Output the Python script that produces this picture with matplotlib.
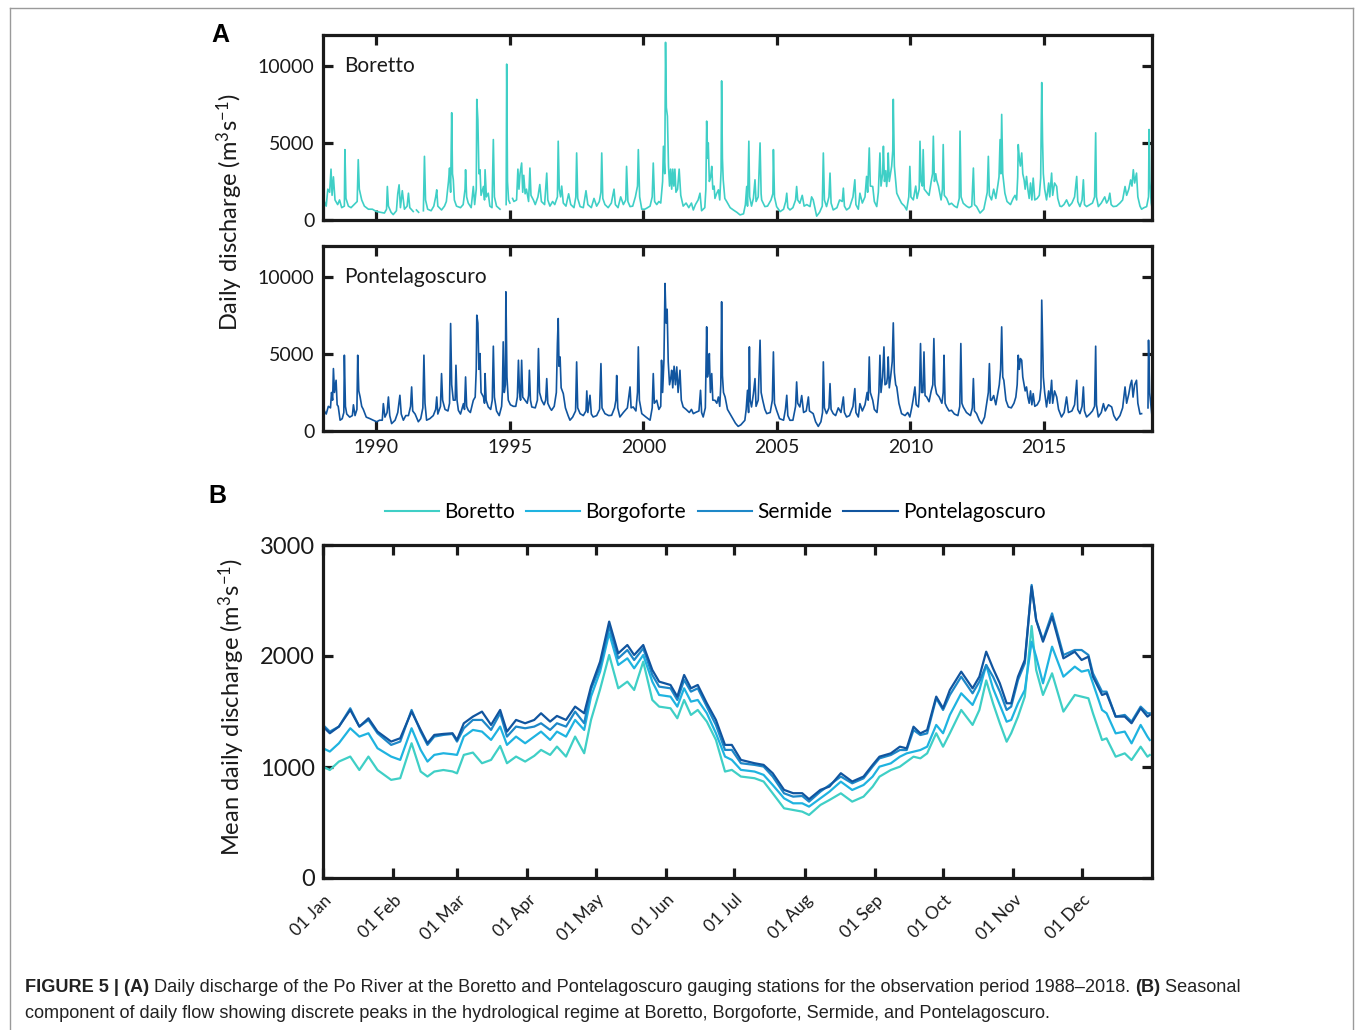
import numpy as np
import matplotlib
matplotlib.use("Agg")
import matplotlib.pyplot as plt
from matplotlib.lines import Line2D

plt.rcParams["font.family"] = ["Lato", "DejaVu Sans"]
plt.rcParams["mathtext.fontset"] = "custom"
plt.rcParams["mathtext.rm"] = "Lato"
plt.rcParams["mathtext.it"] = "Lato:italic"

# ── Colours ──────────────────────────────────────────────────────────────────
C_BORETTO = "#3FCFC6"
C_BORGOFORTE = "#1FB3E0"
C_SERMIDE = "#1E88C8"
C_PONTE = "#11559F"

NA = np.nan  # gaps in the record

# ── Panel A: daily discharge (decimal year, m3/s) ────────────────────────────
boretto_year = [
    1988.00, 1988.01, 1988.05, 1988.12, 1988.18, 1988.25, 1988.30, 1988.34, 1988.39, 1988.45,
    1988.55, 1988.62, 1988.70, 1988.80, 1988.82, 1988.86, 1988.95, 1989.05, 1989.28, 1989.32,
    1989.36, 1989.45, 1989.55, 1989.70, 1989.85, 1990.00, 1990.15, 1990.30, 1990.38, 1990.41,
    1990.45, 1990.55, 1990.63, 1990.75, 1990.80, 1990.85, 1990.90, 1990.97, 1991.05, 1991.15,
    1991.20, 1991.25, 1991.38, 1991.44, 1991.50, 1991.58, 1991.66, 1991.76, 1991.80, 1991.84,
    1991.92, 1992.05, 1992.15, 1992.22, 1992.26, 1992.30, 1992.44, 1992.55, 1992.62, 1992.70,
    1992.74, 1992.78, 1992.82, 1992.85, 1992.88, 1992.92, 1993.00, 1993.15, 1993.25, 1993.32,
    1993.34, 1993.38, 1993.44, 1993.55, 1993.63, 1993.68, 1993.74, 1993.76, 1993.80, 1993.84,
    1993.88, 1993.92, 1994.01, 1994.05, 1994.07, 1994.12, 1994.19, 1994.25, 1994.33, 1994.38,
    1994.42, 1994.50, 1994.63, 1994.68, 1994.86, 1994.88, 1994.91, 1994.95, 1995.00, 1995.04,
    1995.10, 1995.15, 1995.25, 1995.30, 1995.34, 1995.38, 1995.44, 1995.48, 1995.52, 1995.57,
    1995.62, 1995.70, 1995.75, 1995.79, 1995.88, 1995.95, 1996.05, 1996.12, 1996.18, 1996.30,
    1996.38, 1996.42, 1996.50, 1996.60, 1996.68, 1996.78, 1996.81, 1996.85, 1996.90, 1996.94,
    1997.00, 1997.10, 1997.20, 1997.28, 1997.40, 1997.47, 1997.50, 1997.54, 1997.63, 1997.75,
    1997.85, 1997.92, 1998.05, 1998.15, 1998.25, 1998.35, 1998.41, 1998.44, 1998.48, 1998.56,
    1998.68, 1998.80, 1998.90, 1998.95, 1999.05, 1999.15, 1999.25, 1999.34, 1999.37, 1999.42,
    1999.50, 1999.60, 1999.70, 1999.78, 1999.81, 1999.86, 1999.94, 2000.05, 2000.12, 2000.25,
    2000.33, 2000.37, 2000.42, 2000.50, 2000.58, 2000.65, 2000.72, 2000.75, 2000.80, 2000.83,
    2000.86, 2000.90, 2000.94, 2000.98, 2001.02, 2001.06, 2001.10, 2001.14, 2001.18, 2001.22,
    2001.28, 2001.34, 2001.40, 2001.49, 2001.60, 2001.70, 2001.80, 2001.87, 2001.95, 2002.05,
    2002.12, 2002.18, 2002.30, 2002.34, 2002.37, 2002.41, 2002.43, 2002.47, 2002.52, 2002.56,
    2002.60, 2002.65, 2002.68, 2002.74, 2002.81, 2002.86, 2002.91, 2002.93, 2002.96, 2002.99,
    2003.05, 2003.12, 2003.25, 2003.37, 2003.50, 2003.62, 2003.75, 2003.82, 2003.87, 2003.90,
    2003.95, 2003.98, 2004.05, 2004.12, 2004.18, 2004.22, 2004.30, 2004.37, 2004.41, 2004.43,
    2004.55, 2004.65, 2004.78, 2004.85, 2004.87, 2004.91, 2004.99, 2005.12, 2005.25, 2005.33,
    2005.37, 2005.41, 2005.49, 2005.60, 2005.70, 2005.74, 2005.78, 2005.86, 2005.95, 2006.02,
    2006.12, 2006.24, 2006.30, 2006.36, 2006.49, 2006.60, 2006.70, 2006.74, 2006.78, 2006.86,
    2006.95, 2006.99, 2007.03, 2007.11, 2007.25, 2007.35, 2007.45, 2007.49, 2007.53, 2007.61,
    2007.72, 2007.85, 2007.92, 2007.96, 2008.05, 2008.11, 2008.20, 2008.30, 2008.36, 2008.40,
    2008.46, 2008.50, 2008.59, 2008.65, 2008.74, 2008.80, 2008.86, 2008.90, 2008.96, 2008.99,
    2009.03, 2009.08, 2009.11, 2009.15, 2009.17, 2009.21, 2009.24, 2009.30, 2009.34, 2009.36,
    2009.40, 2009.45, 2009.49, 2009.58, 2009.67, 2009.78, 2009.86, 2009.94, 2009.98, 2010.02,
    2010.11, 2010.20, 2010.25, 2010.33, 2010.36, 2010.40, 2010.45, 2010.48, 2010.52, 2010.61,
    2010.70, 2010.78, 2010.83, 2010.86, 2010.90, 2010.95, 2010.98, 2011.05, 2011.15, 2011.20,
    2011.23, 2011.27, 2011.36, 2011.45, 2011.54, 2011.65, 2011.75, 2011.83, 2011.86, 2011.90,
    2011.98, 2012.10, 2012.20, 2012.30, 2012.36, 2012.40, 2012.48, 2012.61, 2012.75, 2012.82,
    2012.88, 2012.92, 2012.96, 2013.04, 2013.12, 2013.20, 2013.28, 2013.32, 2013.36, 2013.39,
    2013.42, 2013.46, 2013.54, 2013.62, 2013.75, 2013.85, 2013.92, 2013.98, 2014.02, 2014.04,
    2014.08, 2014.12, 2014.17, 2014.21, 2014.26, 2014.30, 2014.35, 2014.40, 2014.45, 2014.50,
    2014.55, 2014.60, 2014.66, 2014.75, 2014.83, 2014.88, 2014.92, 2014.95, 2014.98, 2015.03,
    2015.10, 2015.18, 2015.22, 2015.29, 2015.33, 2015.40, 2015.48, 2015.52, 2015.60, 2015.66,
    2015.75, 2015.85, 2015.95, 2016.05, 2016.15, 2016.23, 2016.27, 2016.35, 2016.43, 2016.48,
    2016.52, 2016.60, 2016.72, 2016.82, 2016.90, 2016.94, 2016.97, 2017.04, 2017.15, 2017.28,
    2017.35, 2017.42, 2017.47, 2017.52, 2017.60, 2017.72, 2017.85, 2017.95, 2018.04, 2018.10,
    2018.18, 2018.25, 2018.30, 2018.35, 2018.40, 2018.47, 2018.52, 2018.60, 2018.66, 2018.75,
    2018.85, 2018.92, 2018.94, 2018.97, 2019.02, 2019.04,
]
boretto_daily = [
    900, 2065, 1200, 900, 2000, 1800, 3300, 1600, 2800, 1300,
    1000, 1300, 800, 900, 4565, 1400, 900, 800, 1200, 3913,
    2000, 1300, 900, 700, 700, 550, 500, 450, 700, 2174,
    900, 500, 350, 600, 1700, 2283, 800, 1900, 700, 900,
    1739, 800, 550, NA, 650, 500, NA, 600, 4130, 1300,
    700, 600, 900, 1500, 1957, 900, 650, 900, 1200, 2500,
    3370, 1800, 6957, 3000, 2609, 1300, 900, 800, 1000, 2000,
    3261, 1500, 1100, 800, 2174, 1000, 2000, 7826, 6522, 3000,
    3261, 1600, 2174, 1300, 3261, 1500, 1739, 900, 800, 5217,
    1500, 900, 700, NA, 1000, 10109, 2500, 1300, 1100, NA,
    1400, 1200, 1300, 3300, 2000, 3000, 3696, 1800, 2900, 1700,
    2000, 1200, 3370, 1600, 1300, 1000, 1500, 2300, 1200, 1000,
    3043, 1300, 900, 1200, 1000, 1500, 5109, 2000, 1500, 2200,
    1100, 900, 1700, 1000, 800, 1500, 4348, 1400, 870, 800,
    1900, 1000, 800, 1400, 900, 1200, 1800, 4348, 1400, 1000,
    800, 1100, 2000, 1000, 800, 1500, 1000, 1300, 3478, 1200,
    870, 900, 1500, 2200, 4565, 1500, 700, 700, 761, 900,
    1500, 3696, 1200, 1000, 1200, 1100, 2500, 4783, 3000, 11522,
    7300, 6739, 3500, 2200, 3300, 2000, 3300, 2200, 3300, 1800,
    2000, 3300, 1600, 900, 1100, 800, 1100, 650, 1000, 1300,
    1739, 600, 800, 2000, 6413, 4000, 5000, 2500, 2800, 3478,
    2000, 2200, 1400, 1700, 1957, 1300, 3200, 9022, 4000, 2609,
    1400, 1200, 800, 650, 500, 330, 400, 1000, 2174, 900,
    5109, 1500, 900, 1400, 2609, 1200, 1500, 5000, 1700, 1300,
    870, 900, 1300, 1700, 4565, 1500, 870, 543, 700, 1200,
    1739, 800, 652, 800, 1300, 2174, 1300, 1087, 1600, 900,
    1000, 870, 1500, 1304, 250, 500, 900, 4348, 1300, 870,
    1500, 3043, 1100, 652, 800, 1300, 1200, 2065, 900, 652,
    800, 1500, 2609, 1000, 700, 1739, 1100, 1500, 2826, 1800,
    4674, 2200, 2174, 1200, 870, 1800, 4348, 2200, 3000, 4783,
    2500, 3200, 2174, 3000, 4348, 2500, 2826, 3500, 4500, 7826,
    3500, 2500, 1739, 1400, 1087, 900, 652, 1500, 3478, 1500,
    1304, 2200, 1400, 2000, 5109, 2500, 2200, 4565, 2000, 1800,
    1600, 2500, 3000, 5435, 2500, 3000, 2609, 2200, 1300, 2000,
    4891, 1600, 1400, 1000, 1087, 900, 800, 1400, 5761, 1500,
    1087, 900, 800, 900, 3370, 1000, 870, 450, 700, 1300,
    1800, 4130, 1600, 1304, 2000, 1400, 2300, 2800, 5217, 3000,
    6848, 3000, 1739, 1200, 1000, 1400, 1600, 1300, 2800, 4891,
    4000, 3500, 4348, 3000, 2600, 2000, 2826, 2000, 1400, 2400,
    1300, 2717, 1300, 1400, 1600, 2700, 8913, 5217, 3000, 2000,
    1304, 2400, 1500, 3043, 1600, 2400, 2174, 1400, 900, 870,
    1000, 1304, 900, 1100, 1500, 2826, 1200, 870, 1300, 2609,
    1000, 870, 1000, 1100, 1500, 5652, 1500, 870, 1100, 1500,
    1100, 1300, 1739, 1000, 870, 900, 1100, 1300, 2174, 1600,
    2000, 2600, 2200, 3261, 2400, 3043, 1500, 900, 700, 800,
    870, 1500, 5870, 2500, 1100, 900,
]

ponte_year = [
    1988.00, 1988.01, 1988.05, 1988.12, 1988.20, 1988.28, 1988.32, 1988.36, 1988.39, 1988.43,
    1988.49, 1988.53, 1988.57, 1988.64, 1988.72, 1988.78, 1988.80, 1988.84, 1988.89, 1989.00,
    1989.10, 1989.14, 1989.20, 1989.27, 1989.30, 1989.34, 1989.39, 1989.45, 1989.51, 1989.62,
    1989.76, 1989.88, 1990.01, 1990.12, 1990.22, 1990.26, 1990.32, 1990.40, 1990.45, 1990.50,
    1990.57, 1990.70, 1990.80, 1990.88, 1990.93, 1991.01, 1991.10, 1991.20, 1991.28, 1991.32,
    1991.36, 1991.45, 1991.57, 1991.66, 1991.74, 1991.78, 1991.82, 1991.88, 1992.00, 1992.13,
    1992.22, 1992.26, 1992.30, 1992.40, 1992.44, 1992.48, 1992.57, 1992.68, 1992.74, 1992.78,
    1992.82, 1992.88, 1992.95, 1992.98, 1993.02, 1993.07, 1993.15, 1993.26, 1993.30, 1993.34,
    1993.38, 1993.44, 1993.52, 1993.63, 1993.70, 1993.74, 1993.76, 1993.80, 1993.84, 1993.88,
    1993.92, 1994.01, 1994.05, 1994.07, 1994.11, 1994.19, 1994.28, 1994.34, 1994.38, 1994.42,
    1994.50, 1994.60, 1994.69, 1994.72, 1994.75, 1994.79, 1994.83, 1994.85, 1994.89, 1994.94,
    1995.02, 1995.13, 1995.22, 1995.28, 1995.32, 1995.36, 1995.40, 1995.44, 1995.48, 1995.57,
    1995.65, 1995.70, 1995.73, 1995.77, 1995.82, 1995.95, 1996.03, 1996.07, 1996.11, 1996.19,
    1996.28, 1996.34, 1996.38, 1996.42, 1996.50, 1996.56, 1996.66, 1996.74, 1996.78, 1996.81,
    1996.84, 1996.88, 1996.92, 1997.00, 1997.08, 1997.18, 1997.25, 1997.35, 1997.46, 1997.50,
    1997.54, 1997.63, 1997.75, 1997.85, 1997.88, 1997.92, 1998.00, 1998.05, 1998.12, 1998.25,
    1998.36, 1998.41, 1998.45, 1998.56, 1998.70, 1998.81, 1998.92, 1998.97, 1999.00, 1999.04,
    1999.12, 1999.25, 1999.40, 1999.50, 1999.54, 1999.62, 1999.72, 1999.78, 1999.81, 1999.85,
    1999.94, 2000.10, 2000.25, 2000.33, 2000.37, 2000.41, 2000.50, 2000.58, 2000.65, 2000.68,
    2000.72, 2000.77, 2000.81, 2000.85, 2000.89, 2000.93, 2000.98, 2001.03, 2001.06, 2001.10,
    2001.15, 2001.20, 2001.25, 2001.30, 2001.37, 2001.42, 2001.49, 2001.60, 2001.72, 2001.80,
    2001.87, 2001.95, 2002.08, 2002.14, 2002.18, 2002.24, 2002.32, 2002.37, 2002.40, 2002.44,
    2002.47, 2002.51, 2002.56, 2002.60, 2002.68, 2002.75, 2002.81, 2002.86, 2002.90, 2002.93,
    2002.96, 2003.00, 2003.06, 2003.15, 2003.24, 2003.35, 2003.45, 2003.55, 2003.65, 2003.80,
    2003.85, 2003.90, 2003.94, 2003.97, 2004.00, 2004.05, 2004.12, 2004.18, 2004.22, 2004.30,
    2004.37, 2004.41, 2004.47, 2004.55, 2004.62, 2004.75, 2004.83, 2004.87, 2004.91, 2004.99,
    2005.10, 2005.25, 2005.32, 2005.37, 2005.41, 2005.49, 2005.60, 2005.70, 2005.74, 2005.78,
    2005.86, 2005.93, 2006.00, 2006.10, 2006.18, 2006.22, 2006.36, 2006.45, 2006.55, 2006.65,
    2006.71, 2006.74, 2006.78, 2006.86, 2006.95, 2006.99, 2007.03, 2007.11, 2007.20, 2007.30,
    2007.40, 2007.49, 2007.53, 2007.61, 2007.72, 2007.85, 2007.92, 2007.96, 2008.05, 2008.11,
    2008.20, 2008.30, 2008.38, 2008.42, 2008.46, 2008.50, 2008.59, 2008.65, 2008.75, 2008.82,
    2008.86, 2008.90, 2008.96, 2009.01, 2009.05, 2009.11, 2009.14, 2009.17, 2009.21, 2009.26,
    2009.32, 2009.36, 2009.40, 2009.45, 2009.49, 2009.57, 2009.67, 2009.80, 2009.90, 2009.98,
    2010.05, 2010.10, 2010.17, 2010.22, 2010.30, 2010.34, 2010.38, 2010.42, 2010.47, 2010.51,
    2010.55, 2010.61, 2010.70, 2010.78, 2010.84, 2010.88, 2010.92, 2010.98, 2011.08, 2011.18,
    2011.23, 2011.26, 2011.30, 2011.36, 2011.45, 2011.54, 2011.65, 2011.78, 2011.85, 2011.89,
    2011.93, 2011.98, 2012.10, 2012.25, 2012.32, 2012.36, 2012.40, 2012.48, 2012.58, 2012.67,
    2012.78, 2012.86, 2012.92, 2012.96, 2013.00, 2013.04, 2013.12, 2013.20, 2013.28, 2013.33,
    2013.38, 2013.42, 2013.46, 2013.50, 2013.58, 2013.67, 2013.78, 2013.88, 2013.95, 2014.00,
    2014.04, 2014.08, 2014.12, 2014.17, 2014.21, 2014.26, 2014.30, 2014.35, 2014.40, 2014.45,
    2014.50, 2014.55, 2014.60, 2014.66, 2014.75, 2014.84, 2014.89, 2014.92, 2014.95, 2014.98,
    2015.03, 2015.10, 2015.18, 2015.22, 2015.29, 2015.33, 2015.40, 2015.48, 2015.55, 2015.66,
    2015.76, 2015.85, 2015.92, 2016.05, 2016.15, 2016.23, 2016.27, 2016.35, 2016.43, 2016.48,
    2016.52, 2016.60, 2016.72, 2016.82, 2016.90, 2016.94, 2016.97, 2017.04, 2017.15, 2017.23,
    2017.30, 2017.42, 2017.54, 2017.62, 2017.72, 2017.85, 2017.95, 2018.04, 2018.10, 2018.18,
    2018.24, 2018.29, 2018.34, 2018.40, 2018.47, 2018.52, 2018.60, 2018.66, 2018.70, 2018.90,
    2018.92, 2018.96, 2019.02, 2019.04,
]
ponte_daily = [
    1500, 2208, 1300, 1100, 1600, 1500, 2500, 2000, 4049, 2500,
    3291, 1700, 1600, 700, 800, 1200, 4915, 1600, 1100, 900,
    1000, 1700, 1000, 1400, 4915, 2600, 2208, 1600, 1400, 900,
    800, 700, 600, 700, 700, 1775, 900, 1200, 2208, 1000,
    480, 700, 1200, 2317, 1100, 700, 1000, 1000, 1600, 2858,
    1300, 1100, 600, 800, 1500, 4915, 1800, 700, 800, 1000,
    1400, 2208, 1100, 1600, 3724, 2000, 1400, 1300, 1800, 6971,
    3000, 2000, 2000, 4265, 2000, 1342, 1100, 1775, 1400, 3507,
    1600, 1342, 1200, 1992, 2200, 4000, 7513, 7000, 4000, 5023,
    2500, 2208, 1800, 3724, 2000, 1559, 1400, 2000, 5499, 2200,
    1300, 1000, 1600, 2600, 5781, 2500, 3000, 9028, 3500, 2000,
    1700, 1600, 1600, 2200, 4590, 2500, 2000, 4590, 2200, 1992,
    1800, 2300, 3940, 2000, 1559, 1500, 2000, 5348, 2500, 1992,
    1700, 2000, 3399, 1800, 1500, 1342, 1600, 2500, 5700, 7296,
    4200, 4806, 2800, 2425, 1500, 1000, 700, 900, 1300, 4482,
    1500, 1126, 1000, 1300, 2600, 1200, 2317, 1100, 909, 1000,
    1400, 4373, 1500, 1126, 1000, 1018, 1500, 2000, 3600, 1500,
    909, 1200, 1500, 2858, 1500, 1559, 1300, 2500, 5456, 2000,
    1126, 900, 700, 1500, 3724, 1800, 1992, 1400, 1600, 4590,
    2500, 4600, 9569, 7000, 7900, 4500, 3000, 3500, 3940, 2800,
    4200, 3000, 4157, 2500, 3940, 2000, 1559, 1400, 1200, 1400,
    1126, 1200, 1300, 2641, 1200, 909, 1500, 6755, 3500, 4000,
    5023, 2500, 3724, 2000, 1992, 1800, 2208, 1600, 3000, 8379,
    3600, 2500, 2208, 1400, 1126, 800, 500, 300, 400, 693,
    1400, 2641, 1200, 5456, 2000, 1559, 2400, 3399, 1600, 2000,
    5889, 2500, 1992, 1400, 1126, 1200, 2000, 5131, 1800, 1342,
    800, 700, 1400, 2317, 1000, 693, 700, 1600, 3183, 1800,
    1559, 2300, 1200, 1300, 2208, 1300, 1126, 600, 300, 600,
    1200, 4482, 1500, 1126, 1500, 3074, 1400, 1126, 1000, 1500,
    1200, 2208, 1200, 909, 1000, 1600, 2750, 1200, 909, 1775,
    1300, 1700, 2500, 2000, 4806, 2500, 1992, 1400, 1200, 2500,
    4915, 2500, 3500, 5456, 3000, 3074, 3500, 4806, 2800, 3500,
    4500, 7015, 3800, 3000, 2858, 1800, 1126, 1000, 1200, 909,
    1500, 2000, 2858, 1700, 1559, 2500, 5672, 2500, 2500, 5131,
    2300, 2208, 1900, 2600, 3000, 5997, 3000, 2425, 2200, 1800,
    2500, 4915, 1800, 1559, 1300, 1342, 1100, 1000, 1600, 5672,
    1800, 1559, 1200, 1000, 1500, 3399, 1300, 1126, 700, 476,
    900, 1800, 2500, 4373, 2000, 1992, 2300, 1700, 2500, 3000,
    4000, 6755, 3500, 3291, 2000, 1559, 1500, 1800, 2200, 3000,
    4915, 4000, 4700, 4590, 3500, 3000, 2600, 2858, 2200, 1800,
    2600, 1700, 2425, 1600, 1700, 2000, 2800, 8487, 5889, 3500,
    2500, 1559, 2600, 1800, 3291, 1800, 2600, 2208, 1400, 909,
    1200, 2208, 1200, 1300, 1700, 3291, 1400, 1126, 1600, 2858,
    1300, 909, 1100, 1300, 1600, 5499, 1700, 909, 1200, 1775,
    1300, 1700, 1559, 1000, 693, 1000, 1500, 2858, 1800, 2400,
    3000, 3291, 2200, 3000, 3291, 1800, 1100, 1126, NA, 1500,
    5889, 2500, 1500, 1126,
]

year_ticks = [1990, 1995, 2000, 2005, 2010, 2015]
daily_yticks = [0, 5000, 10000]

# ── Panel B: mean daily discharge by day of year (m3/s) ──────────────────────
doy = [
    1, 4, 8, 13, 17, 21, 25, 31, 35, 40, 44, 47, 50, 54, 58, 60, 63, 67, 71, 75,
    79, 82, 86, 90, 94, 97, 101, 104, 108, 112, 116, 119,
    123, 127, 131, 135, 138, 142, 146, 149, 154, 157, 160, 163, 166, 170, 174, 178,
    181, 185, 191, 195, 199, 204, 208, 212, 215, 220, 224, 229, 234, 239, 243,
    246, 251, 255, 258, 261, 264, 267, 271, 274, 277, 282, 287, 290, 293, 296, 299,
    302, 304, 307, 310, 313, 315, 318, 322, 327, 332, 335, 338, 340, 344, 346, 350,
    354, 357, 361, 364, 365,
]
seas_boretto = [
    1003, 973, 1049, 1094, 973, 1094, 973, 884, 899, 1214, 959, 914, 959, 973, 960, 943,
    1109, 1130, 1034, 1064, 1190, 1034, 1094, 1049, 1100, 1154, 1109, 1184, 1094, 1274,
    1124, 1424,
    1700, 2009, 1709, 1769, 1694, 1949, 1604, 1544, 1529, 1439, 1604, 1469, 1514, 1409,
    1244, 959, 974, 914, 899, 869, 763, 628, 613, 598, 568, 658, 703, 763, 688, 733, 823,
    913, 973, 1003, 1048, 1093, 1078, 1123, 1304, 1183, 1304, 1514, 1379, 1514, 1780,
    1574, 1394, 1228, 1304, 1454, 1634, 2270, 1874, 1649, 1844, 1499, 1649, 1634, 1619,
    1484, 1243, 1258, 1093, 1123, 1063, 1183, 1093, 1108,
]
seas_borgoforte = [
    1169, 1139, 1214, 1349, 1274, 1304, 1169, 1094, 1064, 1349, 1154, 1049, 1109, 1124,
    1115, 1109, 1274, 1334, 1319, 1244, 1364, 1199, 1274, 1214, 1274, 1319, 1244, 1319,
    1274, 1424, 1334, 1634,
    1859, 2205, 1919, 1979, 1889, 2009, 1769, 1649, 1634, 1544, 1709, 1589, 1604, 1484,
    1304, 1094, 1064, 974, 959, 929, 838, 718, 673, 673, 643, 718, 778, 868, 793, 838, 914,
    1003, 1033, 1093, 1123, 1138, 1153, 1183, 1379, 1304, 1469, 1664, 1559, 1694, 1919,
    1709, 1559, 1408, 1424, 1574, 1694, 2129, 1994, 1754, 2084, 1814, 1904, 1859, 1874,
    1754, 1514, 1484, 1303, 1319, 1213, 1379, 1273, 1243,
]
seas_sermide = [
    1379, 1319, 1364, 1529, 1364, 1424, 1304, 1199, 1229, 1514, 1319, 1199, 1274, 1289,
    1298, 1229, 1349, 1424, 1424, 1334, 1484, 1274, 1364, 1349, 1364, 1394, 1334, 1394,
    1364, 1499, 1394, 1700,
    1904, 2265, 1979, 2054, 1964, 2069, 1829, 1724, 1709, 1604, 1784, 1679, 1709, 1544,
    1379, 1154, 1154, 1034, 1019, 1004, 914, 763, 733, 739, 688, 778, 838, 914, 853, 898,
    1004,
    1078, 1108, 1153, 1153, 1333, 1288, 1303, 1619, 1514, 1649, 1814, 1664, 1769, 1919,
    1814, 1679, 1514, 1544, 1784, 1934, 2640, 2324, 2144, 2384, 2009, 2054, 2054, 2009,
    1844, 1679, 1679, 1454, 1469, 1409, 1544, 1484, 1484,
]
seas_ponte = [
    1364, 1304, 1364, 1514, 1364, 1439, 1319, 1229, 1259, 1499, 1334, 1214, 1289, 1298,
    1304, 1244, 1394, 1454, 1499, 1379, 1514, 1319, 1424, 1394, 1424, 1484, 1409, 1460,
    1424, 1544, 1484, 1724,
    1949, 2310, 2024, 2099, 2009, 2099, 1874, 1769, 1739, 1634, 1829, 1709, 1739, 1574,
    1424, 1199, 1199, 1064, 1034, 1019, 944, 794, 764, 764, 710, 794, 824, 944, 869, 914,
    1019,
    1093, 1123, 1183, 1168, 1363, 1303, 1333, 1634, 1529, 1694, 1859, 1709, 1814, 2039,
    1889, 1754, 1574, 1574, 1814, 1964, 2625, 2324, 2129, 2354, 1979, 2039, 1964, 1994,
    1814, 1649, 1664, 1454, 1454, 1394, 1529, 1454, 1469,
]

month_doy = [1, 32, 60, 91, 121, 152, 182, 213, 244, 274, 305, 335]
month_labels = ["01 Jan", "01 Feb", "01 Mar", "01 Apr", "01 May", "01 Jun",
                "01 Jul", "01 Aug", "01 Sep", "01 Oct", "01 Nov", "01 Dec"]
seas_yticks = [0, 1000, 2000, 3000]

stations = ["Boretto", "Borgoforte", "Sermide", "Pontelagoscuro"]


def style_axes(ax):
    """MATLAB-like boxed axes: thick frame, inward ticks on all sides."""
    for sp in ax.spines.values():
        sp.set_linewidth(2.3)
        sp.set_color("#1a1a1a")
    ax.tick_params(direction="in", length=7, width=2.3, top=True, right=True,
                   labelsize=14, pad=6, colors="#1a1a1a")


fig = plt.figure(figsize=(13.55, 10.30), dpi=100)

W, H = 1355.0, 1030.0


def box(x0, y0, x1, y1):
    return [x0 / W, 1 - y1 / H, (x1 - x0) / W, (y1 - y0) / H]


# ── Panel A, top: Boretto ────────────────────────────────────────────────────
ax1 = fig.add_axes(box(323, 35, 1152, 220))
ax1.plot(boretto_year, boretto_daily, color=C_BORETTO, lw=1.2)
ax1.set_xlim(1988, 2019.05)
ax1.set_ylim(0, 12000)
ax1.set_xticks(year_ticks)
ax1.set_xticklabels([])
ax1.set_yticks(daily_yticks)
style_axes(ax1)
ax1.text(0.026, 0.83, "Boretto", transform=ax1.transAxes, fontsize=15,
         va="center", ha="left", color="#1a1a1a")

# ── Panel A, bottom: Pontelagoscuro ──────────────────────────────────────────
ax2 = fig.add_axes(box(323, 246, 1152, 431))
ax2.plot(ponte_year, ponte_daily, color=C_PONTE, lw=1.2)
ax2.set_xlim(1988, 2019.05)
ax2.set_ylim(0, 12000)
ax2.set_xticks(year_ticks)
ax2.set_yticks(daily_yticks)
style_axes(ax2)
ax2.text(0.026, 0.83, "Pontelagoscuro", transform=ax2.transAxes, fontsize=15,
         va="center", ha="left", color="#1a1a1a")

fig.text(230 / W, 1 - 212 / H, r"Daily discharge (m$^{3}$s$^{-1}$)", rotation=90,
         ha="center", va="center", fontsize=17, color="#1a1a1a")
fig.text(220 / W, 1 - 35 / H, "A", fontsize=18, fontweight="bold",
         ha="center", va="center", family=["Liberation Sans", "DejaVu Sans"])

# ── Panel B: seasonal component ──────────────────────────────────────────────
ax3 = fig.add_axes(box(323, 545, 1152, 878))
series = [seas_boretto, seas_borgoforte, seas_sermide, seas_ponte]
colors = [C_BORETTO, C_BORGOFORTE, C_SERMIDE, C_PONTE]
for name, vals, col in zip(stations, series, colors):
    ax3.plot(doy, vals, color=col, lw=1.6, label=name)
ax3.set_xlim(1, 366)
ax3.set_ylim(0, 3000)
ax3.set_xticks(month_doy)
ax3.set_xticklabels(month_labels, rotation=45, ha="right", va="top",
                    rotation_mode="anchor", fontsize=12.5)
ax3.set_yticks(seas_yticks)
style_axes(ax3)
ax3.tick_params(axis="x", labelsize=12.5, pad=10)
ax3.tick_params(axis="y", labelsize=17)

fig.text(232 / W, 1 - 707 / H, r"Mean daily discharge (m$^{3}$s$^{-1}$)", rotation=90,
         ha="center", va="center", fontsize=17, color="#1a1a1a")
fig.text(217 / W, 1 - 496 / H, "B", fontsize=18, fontweight="bold",
         ha="center", va="center", family=["Liberation Sans", "DejaVu Sans"])

handles = [Line2D([], [], color=c, lw=1.5) for c in colors]
fig.legend(handles, stations, loc="center", bbox_to_anchor=(715 / W, 1 - 512 / H),
           ncol=4, frameon=False, fontsize=15, handlelength=2.6, handletextpad=0.25,
           columnspacing=0.55)

# ── Caption ──────────────────────────────────────────────────────────────────
cap_font = ["Liberation Sans", "DejaVu Sans"]
cap_size = 13.1
renderer = fig.canvas.get_renderer()


def caption_line(pieces, x_px, y_px):
    x = x_px
    for txt, bold in pieces:
        t = fig.text(x / W, 1 - y_px / H, txt, fontsize=cap_size, family=cap_font,
                     fontweight="bold" if bold else "normal", ha="left",
                     va="center", color="#222222")
        x += t.get_window_extent(renderer).width


caption_line([("FIGURE 5 | (A)", True),
              (" Daily discharge of the Po River at the Boretto and Pontelagoscuro gauging "
               "stations for the observation period 1988\u20132018. ", False),
              ("(B)", True), (" Seasonal", False)], 25, 988)
caption_line([("component of daily flow showing discrete peaks in the hydrological regime at "
               "Boretto, Borgoforte, Sermide, and Pontelagoscuro.", False)], 25, 1014)

# ── Page frame ───────────────────────────────────────────────────────────────
frame_col = "#9a9a9a"
fig.add_artist(Line2D([10 / W, 1353 / W], [1 - 8 / H, 1 - 8 / H], color=frame_col, lw=1))
fig.add_artist(Line2D([10 / W, 10 / W], [1 - 8 / H, 0], color=frame_col, lw=1))
fig.add_artist(Line2D([1353 / W, 1353 / W], [1 - 8 / H, 0], color=frame_col, lw=1))

fig.savefig("out.png", dpi=100, facecolor="white")
